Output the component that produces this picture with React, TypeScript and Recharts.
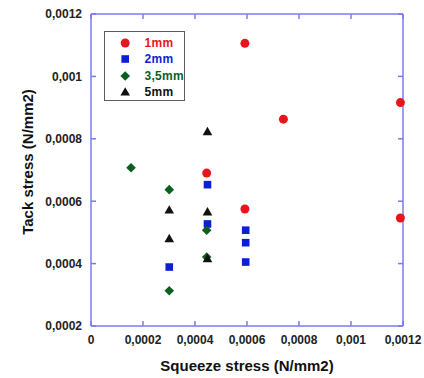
import React from 'react'
import { ScatterChart, Scatter, XAxis, YAxis, Legend, Label } from 'recharts'

// tick values for both axes
const xTicks = [0, 0.0002, 0.0004, 0.0006, 0.0008, 0.001, 0.0012]
const yTicks = [0.0002, 0.0004, 0.0006, 0.0008, 0.001, 0.0012]

// squeeze stress (x) vs tack stress (y)
const data1mm = [
  { x: 0.000592, y: 0.001106 },
  { x: 0.00119, y: 0.000916 },
  { x: 0.00074, y: 0.000863 },
  { x: 0.000445, y: 0.00069 },
  { x: 0.000592, y: 0.000575 },
  { x: 0.00119, y: 0.000546 },
]

const data2mm = [
  { x: 0.000448, y: 0.000653 },
  { x: 0.000448, y: 0.000527 },
  { x: 0.000595, y: 0.000507 },
  { x: 0.000595, y: 0.000467 },
  { x: 0.000595, y: 0.000405 },
  { x: 0.000301, y: 0.000389 },
]

const data35mm = [
  { x: 0.000154, y: 0.000707 },
  { x: 0.000301, y: 0.000637 },
  { x: 0.000445, y: 0.000507 },
  { x: 0.000445, y: 0.000421 },
  { x: 0.000301, y: 0.000313 },
]

const data5mm = [
  { x: 0.000448, y: 0.000823 },
  { x: 0.000301, y: 0.000572 },
  { x: 0.000448, y: 0.000566 },
  { x: 0.000301, y: 0.00048 },
  { x: 0.000448, y: 0.000416 },
]

const series = [
  { name: '1mm', color: '#e8161c', kind: 'circle', data: data1mm },
  { name: '2mm', color: '#0c1fd6', kind: 'square', data: data2mm },
  { name: '3,5mm', color: '#0d5f1f', kind: 'diamond', data: data35mm },
  { name: '5mm', color: '#111111', kind: 'triangle', data: data5mm },
]

const AXIS = '#7b7bef'
const FONT = '"Liberation Sans", Arial, sans-serif'

const fmt = (v: number) =>
  v === 0 ? '0' : v.toFixed(4).replace(/0+$/, '').replace('.', ',')

function marker(kind: string, cx: number, cy: number, color: string) {
  switch (kind) {
    case 'circle':
      return <circle cx={cx} cy={cy} r={4.5} fill={color} />
    case 'square':
      return <rect x={cx - 3.8} y={cy - 3.8} width={7.6} height={7.6} fill={color} />
    case 'diamond':
      return (
        <path
          d={`M${cx},${cy - 4.8}L${cx + 4.8},${cy}L${cx},${cy + 4.8}L${cx - 4.8},${cy}Z`}
          fill={color}
        />
      )
    default:
      return (
        <path
          d={`M${cx},${cy - 4.8}L${cx + 4.8},${cy + 3.6}L${cx - 4.8},${cy + 3.6}Z`}
          fill={color}
        />
      )
  }
}

// ticks point inwards, labels sit outside
function BottomTick({ x, y, payload }: any) {
  return (
    <g>
      <line x1={x} y1={y} x2={x} y2={y - 5} stroke={AXIS} strokeWidth={1.5} />
      <text x={x} y={y + 18} textAnchor="middle" fill="#222" fontSize={12} fontWeight="bold" fontFamily={FONT}>
        {fmt(payload.value)}
      </text>
    </g>
  )
}

function LeftTick({ x, y, payload }: any) {
  return (
    <g>
      <line x1={x} y1={y} x2={x + 5} y2={y} stroke={AXIS} strokeWidth={1.5} />
      <text x={x - 9} y={y + 4.3} textAnchor="end" fill="#222" fontSize={12} fontWeight="bold" fontFamily={FONT}>
        {fmt(payload.value)}
      </text>
    </g>
  )
}

function TopTick({ x, y }: any) {
  return <line x1={x} y1={y} x2={x} y2={y + 5} stroke={AXIS} strokeWidth={1.5} />
}

function RightTick({ x, y }: any) {
  return <line x1={x} y1={y} x2={x - 5} y2={y} stroke={AXIS} strokeWidth={1.5} />
}

function LegendBox() {
  return (
    <div
      style={{
        border: '1.5px solid #5c5c5c',
        background: '#fff',
        width: 81,
        height: 70,
        paddingTop: 3,
        boxSizing: 'border-box',
        fontFamily: FONT,
      }}
    >
      {series.map((s) => (
        <div key={s.name} style={{ display: 'flex', alignItems: 'center', height: 16.3 }}>
          <svg width={39.5} height={16} style={{ flex: 'none' }}>
            {marker(s.kind, 20.2, 8, s.color)}
          </svg>
          <span style={{ color: s.color, fontWeight: 'bold', fontSize: 12, letterSpacing: 0.3 }}>{s.name}</span>
        </div>
      ))}
    </div>
  )
}

export default function App() {
  return (
    <div style={{ position: 'absolute', left: 0, top: 0, background: '#fff' }}>
      <ScatterChart width={424} height={378} margin={{ top: 13, right: 20, left: 0, bottom: 0 }}>
        <XAxis
          type="number"
          dataKey="x"
          domain={[0, 0.0012]}
          ticks={xTicks}
          height={52}
          tickSize={0}
          tickMargin={0}
          tickLine={false}
          axisLine={{ stroke: AXIS, strokeWidth: 1.5 }}
          tick={<BottomTick />}
          interval={0}
        >
          <Label
            content={({ viewBox }: any) => (
              <text
                x={viewBox.x + viewBox.width / 2}
                y={viewBox.y + viewBox.height - 7}
                textAnchor="middle"
                fill="#111"
                fontSize={15}
                fontWeight="bold"
                fontFamily={FONT}
              >
                Squeeze stress (N/mm2)
              </text>
            )}
          />
        </XAxis>
        <XAxis
          xAxisId="top"
          orientation="top"
          type="number"
          dataKey="x"
          domain={[0, 0.0012]}
          ticks={xTicks}
          allowDataOverflow
          height={1}
          tickSize={0}
          tickMargin={0}
          tickLine={false}
          axisLine={{ stroke: AXIS, strokeWidth: 1.5 }}
          tick={<TopTick />}
          interval={0}
        />
        <YAxis
          type="number"
          dataKey="y"
          domain={[0.0002, 0.0012]}
          ticks={yTicks}
          allowDataOverflow
          width={91}
          tickSize={0}
          tickMargin={0}
          tickLine={false}
          axisLine={{ stroke: AXIS, strokeWidth: 1.5 }}
          tick={<LeftTick />}
          interval={0}
        >
          <Label
            content={({ viewBox }: any) => {
              const cx = viewBox.x + 27
              const cy = viewBox.y + viewBox.height / 2 - 8
              return (
                <text
                  x={cx}
                  y={cy}
                  transform={`rotate(-90 ${cx} ${cy})`}
                  textAnchor="middle"
                  dominantBaseline="central"
                  fill="#111"
                  fontSize={15}
                  fontWeight="bold"
                  fontFamily={FONT}
                >
                  Tack stress (N/mm2)
                </text>
              )
            }}
          />
        </YAxis>
        <YAxis
          yAxisId="right"
          orientation="right"
          type="number"
          dataKey="y"
          domain={[0.0002, 0.0012]}
          ticks={yTicks}
          allowDataOverflow
          width={1}
          tickSize={0}
          tickMargin={0}
          tickLine={false}
          axisLine={{ stroke: AXIS, strokeWidth: 1.5 }}
          tick={<RightTick />}
          interval={0}
        />
        <Legend
          layout="vertical"
          align="center"
          verticalAlign="middle"
          content={<LegendBox />}
          wrapperStyle={{ left: 104, top: 31, width: 81, height: 70 }}
        />
        {series.map((s) => (
          <Scatter
            key={s.name}
            name={s.name}
            data={s.data}
            fill={s.color}
            isAnimationActive={false}
            shape={(p: any) => marker(s.kind, p.cx, p.cy, s.color)}
          />
        ))}
        {/* bound to the top/right frame axes, draws nothing */}
        <Scatter
          xAxisId="top"
          yAxisId="right"
          data={data1mm}
          legendType="none"
          isAnimationActive={false}
          shape={() => <g />}
        />
      </ScatterChart>
    </div>
  )
}
